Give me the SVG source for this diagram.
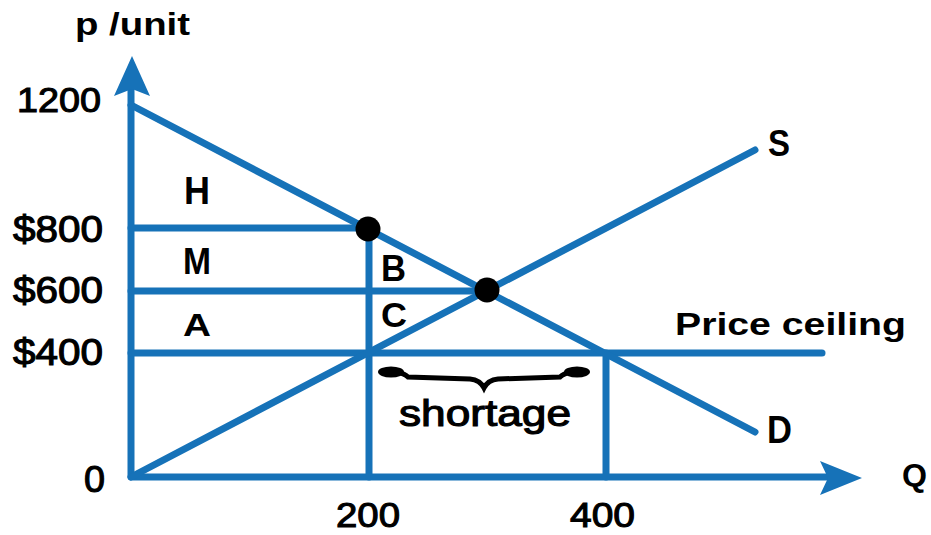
<svg xmlns="http://www.w3.org/2000/svg" width="931" height="535" viewBox="0 0 931 535">
  <style>
    .ln { stroke: #1672b8; stroke-width: 7; fill: none; stroke-linecap: round; stroke-linejoin: round; }
    .ah { fill: #1672b8; }
    .t { font-family: "Liberation Sans", Arial, sans-serif; fill: #000; }
    .b { font-weight: bold; }
    .n { stroke: #000; stroke-width: 1.1; }
  </style>
  <rect width="931" height="535" fill="#fff"/>
  <g id="connectors">
    <g id="axes">
      <polyline class="ln" points="131,90 131,477 830,477"/>
      <polygon class="ah" points="132,56 150,96 132,89 114,96"/>
      <polygon class="ah" points="862,478 820,461 828,478 820,495"/>
    </g>
    <g id="guides">
      <line class="ln" x1="131" y1="228" x2="369" y2="228"/>
      <line class="ln" x1="131" y1="291" x2="487" y2="291"/>
      <line class="ln" x1="131" y1="353" x2="822" y2="353"/>
      <line class="ln" x1="369" y1="229" x2="369" y2="477"/>
      <line class="ln" x1="606" y1="353" x2="606" y2="477"/>
    </g>
    <g id="curves">
      <line id="demand" class="ln" x1="131" y1="105" x2="755" y2="432"/>
      <line id="supply" class="ln" x1="131" y1="477" x2="755" y2="150"/>
    </g>
  </g>
  <g id="points">
    <circle cx="368" cy="229" r="12.5" fill="#000"/>
    <circle cx="487" cy="290" r="12.5" fill="#000"/>
  </g>
  <g id="brace">
    <path d="M382,372 C394,370 404,373 408,377 L470,379 Q480,380 484,388 Q488,380 498,379 L560,377 C564,373 574,370 586,372" fill="none" stroke="#000" stroke-width="5" stroke-linecap="round"/>
    <ellipse cx="391" cy="372" rx="13" ry="5.5" fill="#000"/>
    <ellipse cx="577" cy="372" rx="13" ry="5.5" fill="#000"/>
  </g>
  <g id="labels">
    <text class="t b" x="75" y="35" font-size="32" textLength="115" lengthAdjust="spacingAndGlyphs">p /unit</text>
    <text class="t n" x="17" y="112" font-size="35" textLength="84" lengthAdjust="spacingAndGlyphs">1200</text>
    <text class="t n" x="13" y="242" font-size="36" textLength="90" lengthAdjust="spacingAndGlyphs">$800</text>
    <text class="t n" x="13" y="303" font-size="36" textLength="90" lengthAdjust="spacingAndGlyphs">$600</text>
    <text class="t n" x="13" y="365" font-size="36" textLength="90" lengthAdjust="spacingAndGlyphs">$400</text>
    <text class="t n" x="84" y="492" font-size="37" textLength="21" lengthAdjust="spacingAndGlyphs">0</text>
    <text class="t n" x="336" y="527" font-size="35" textLength="64" lengthAdjust="spacingAndGlyphs">200</text>
    <text class="t n" x="570" y="527" font-size="35" textLength="65" lengthAdjust="spacingAndGlyphs">400</text>
    <text class="t b" x="902" y="486" font-size="31" textLength="25" lengthAdjust="spacingAndGlyphs">Q</text>
    <text class="t b" x="768" y="156" font-size="36" textLength="22" lengthAdjust="spacingAndGlyphs">S</text>
    <text class="t b" x="767" y="443" font-size="38" textLength="25" lengthAdjust="spacingAndGlyphs">D</text>
    <text class="t b" x="184" y="204" font-size="38" textLength="26" lengthAdjust="spacingAndGlyphs">H</text>
    <text class="t b" x="183" y="274" font-size="37" textLength="28" lengthAdjust="spacingAndGlyphs">M</text>
    <text class="t b" x="183" y="336" font-size="32" textLength="28" lengthAdjust="spacingAndGlyphs">A</text>
    <text class="t b" x="381" y="281" font-size="36" textLength="25" lengthAdjust="spacingAndGlyphs">B</text>
    <text class="t b" x="381" y="327" font-size="35" textLength="26" lengthAdjust="spacingAndGlyphs">C</text>
    <text class="t b" x="675" y="335" font-size="32" textLength="231" lengthAdjust="spacingAndGlyphs">Price ceiling</text>
    <text class="t n" x="399" y="426" font-size="36" textLength="172" lengthAdjust="spacingAndGlyphs">shortage</text>
  </g>
</svg>
